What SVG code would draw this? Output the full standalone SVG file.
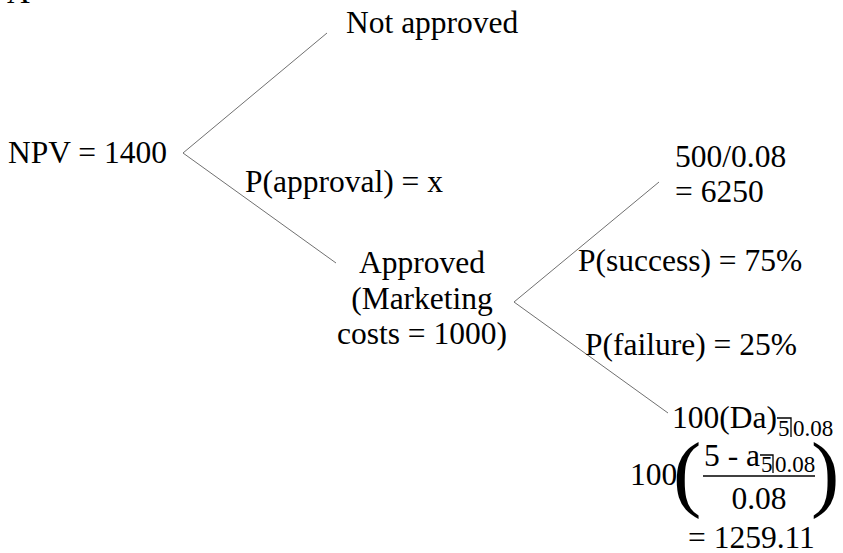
<svg xmlns="http://www.w3.org/2000/svg" width="843" height="553" viewBox="0 0 843 553">
<style>
text{font-family:"Liberation Serif","Times New Roman",Times,"DejaVu Serif",serif;font-size:31.5px;fill:#000}
.sub{font-size:23px}
.big{font-size:85px}
.edge{stroke:#707070;stroke-width:1;fill:none}
.mark{stroke:#000;stroke-width:1.3;fill:none}
.frac{stroke:#000;stroke-width:1.6}
</style>
<rect width="843" height="553" fill="#fff"/>
<text x="7" y="3">A</text>
<g id="connectors">
<line class="edge" x1="183" y1="153" x2="327" y2="33"/>
<line class="edge" x1="183" y1="153" x2="336" y2="263"/>
<line class="edge" x1="514" y1="302" x2="659" y2="182"/>
<line class="edge" x1="514" y1="302" x2="668" y2="413"/>
</g>
<g id="edge-labels">
<text x="245" y="192">P(approval) = x</text>
<text x="578" y="271">P(success) = 75%</text>
<text x="585" y="355">P(failure) = 25%</text>
</g>
<g id="root"><text x="8" y="163">NPV = 1400</text></g>
<g id="not-approved"><text x="346" y="33">Not approved</text></g>
<g id="approved">
<text text-anchor="middle" x="422" y="273">Approved</text>
<text text-anchor="middle" x="422" y="308.5">(Marketing</text>
<text text-anchor="middle" x="422" y="344">costs = 1000)</text>
</g>
<g id="success">
<text x="675" y="167">500/0.08</text>
<text x="675" y="202">= 6250</text>
</g>
<g id="failure">
<text x="672" y="428">100(Da)</text>
<text class="sub" x="778" y="436">5</text>
<polyline class="mark" points="777,418 791,418 791,437"/>
<text class="sub" x="793" y="436">0.08</text>
<text x="630" y="485">100</text>
<text class="big" x="673" y="501">(</text>
<text x="704" y="466">5 - a</text>
<text class="sub" x="761" y="472">5</text>
<polyline class="mark" points="760,455 773,455 773,473"/>
<text class="sub" x="775" y="472">0.08</text>
<line class="frac" x1="703" y1="476" x2="815" y2="476"/>
<text text-anchor="middle" x="759" y="509">0.08</text>
<text class="big" x="811" y="501">)</text>
<text x="688" y="548">= 1259.11</text>
</g>
</svg>
